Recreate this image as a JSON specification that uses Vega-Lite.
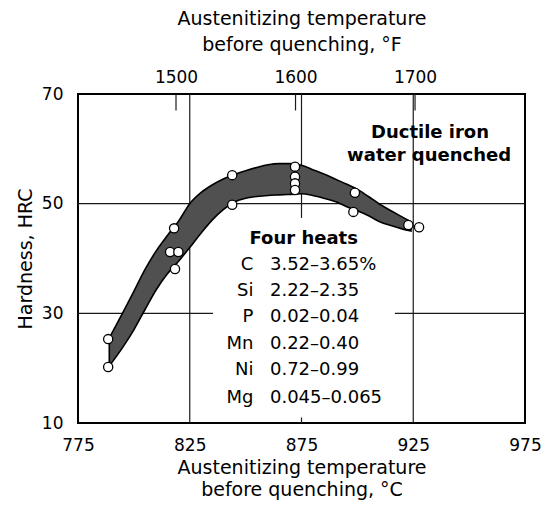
{
  "$schema": "https://vega.github.io/schema/vega-lite/v6.json",
  "width": 447,
  "height": 329,
  "autosize": {"type": "none"},
  "padding": {"left": 78, "top": 94, "right": 19, "bottom": 84},
  "background": "white",
  "config": {
    "view": {"stroke": "black", "strokeWidth": 2},
    "font": "DejaVu Sans",
    "axis": {
      "domain": false, "grid": false, "ticks": false,
      "labelFont": "DejaVu Sans", "titleFont": "DejaVu Sans",
      "labelFontSize": 17, "titleFontSize": 19, "titleFontWeight": "normal",
      "labelColor": "black", "titleColor": "black",
      "labelFlush": false, "labelOverlap": false
    },
    "text": {"font": "DejaVu Sans", "color": "black"}
  },
  "datasets": {
    "band": [
      {"c": 789, "h": 20.4, "h2": 25.5},
      {"c": 795, "h": 23.8, "h2": 30.1},
      {"c": 800, "h": 27.0, "h2": 34.0},
      {"c": 805, "h": 30.7, "h2": 38.0},
      {"c": 810, "h": 34.3, "h2": 41.4},
      {"c": 815, "h": 37.2, "h2": 44.2},
      {"c": 820, "h": 39.5, "h2": 46.8},
      {"c": 825, "h": 42.0, "h2": 50.0},
      {"c": 830, "h": 44.6, "h2": 52.0},
      {"c": 835, "h": 47.0, "h2": 53.4},
      {"c": 840, "h": 48.9, "h2": 54.5},
      {"c": 845, "h": 50.3, "h2": 55.3},
      {"c": 850, "h": 51.0, "h2": 56.0},
      {"c": 855, "h": 51.3, "h2": 56.6},
      {"c": 860, "h": 51.5, "h2": 57.1},
      {"c": 865, "h": 51.6, "h2": 57.3},
      {"c": 870, "h": 51.7, "h2": 57.3},
      {"c": 875, "h": 51.8, "h2": 57.0},
      {"c": 880, "h": 51.5, "h2": 56.2},
      {"c": 885, "h": 51.0, "h2": 55.4},
      {"c": 890, "h": 50.4, "h2": 54.5},
      {"c": 895, "h": 49.5, "h2": 53.6},
      {"c": 900, "h": 48.7, "h2": 52.6},
      {"c": 905, "h": 47.8, "h2": 51.3},
      {"c": 910, "h": 46.7, "h2": 49.9},
      {"c": 915, "h": 46.0, "h2": 48.7},
      {"c": 920, "h": 45.4, "h2": 47.6},
      {"c": 924, "h": 45.0, "h2": 46.7}
    ],
    "points": [
      {"c": 788.5, "h": 25.3}, {"c": 788.5, "h": 20.2},
      {"c": 818.0, "h": 45.5}, {"c": 816.2, "h": 41.2}, {"c": 819.9, "h": 41.2}, {"c": 818.4, "h": 38.1},
      {"c": 844.0, "h": 55.2}, {"c": 844.0, "h": 49.8},
      {"c": 872.1, "h": 56.75}, {"c": 872.1, "h": 54.9}, {"c": 872.1, "h": 53.7}, {"c": 872.1, "h": 52.5},
      {"c": 898.9, "h": 52.0}, {"c": 898.2, "h": 48.5},
      {"c": 922.8, "h": 46.1}, {"c": 927.6, "h": 45.7}
    ],
    "vgrid": [
      {"c": 825, "h": 10, "h2": 70},
      {"c": 925, "h": 10, "h2": 70},
      {"c": 875, "h": 47.4, "h2": 70},
      {"c": 875, "h": 10, "h2": 11}
    ],
    "hgrid": [
      {"h": 50, "c": 775, "c2": 975},
      {"h": 30, "c": 775, "c2": 835.4},
      {"h": 30, "c": 916.8, "c2": 975}
    ],
    "heads": [
      {"label": "Ductile iron", "c": 932.5, "h": 62.9},
      {"label": "water quenched", "c": 932.1, "h": 58.7},
      {"label": "Four heats", "c": 876.0, "h": 43.5}
    ],
    "elements": [
      {"label": "C", "c": 853.5, "h": 38.9},
      {"label": "Si", "c": 853.5, "h": 34.1},
      {"label": "P", "c": 853.5, "h": 29.3},
      {"label": "Mn", "c": 853.5, "h": 24.45},
      {"label": "Ni", "c": 853.5, "h": 19.6},
      {"label": "Mg", "c": 853.5, "h": 14.65}
    ],
    "ranges": [
      {"label": "3.52–3.65%", "c": 860.9, "h": 38.9},
      {"label": "2.22–2.35", "c": 860.9, "h": 34.1},
      {"label": "0.02–0.04", "c": 860.9, "h": 29.3},
      {"label": "0.22–0.40", "c": 860.9, "h": 24.45},
      {"label": "0.72–0.99", "c": 860.9, "h": 19.6},
      {"label": "0.045–0.065", "c": 860.9, "h": 14.65}
    ],
    "fticks": [
      {"f": 1500}, {"f": 1600}, {"f": 1700}
    ]
  },
  "resolve": {"scale": {"x": "independent"}},
  "layer": [
    {
      "encoding": {
        "x": {"field": "c", "type": "quantitative",
          "scale": {"domain": [775, 975], "nice": false, "zero": false},
          "axis": {"orient": "bottom", "values": [775, 825, 875, 925, 975], "format": "d",
            "labelPadding": 14, "title": ["Austenitizing temperature", "before quenching, °C"],
            "titlePadding": 5, "titleLineHeight": 22}},
        "y": {"field": "h", "type": "quantitative",
          "scale": {"domain": [10, 70], "nice": false, "zero": false},
          "axis": {"values": [10, 30, 50, 70], "format": "d", "labelPadding": 15, "title": "Hardness, HRC", "titlePadding": 6}}
      },
      "layer": [
        {
          "data": {"name": "vgrid"},
          "mark": {"type": "rule", "color": "#1a1a1a", "strokeWidth": 1.2},
          "encoding": {"y2": {"field": "h2"}}
        },
        {
          "data": {"name": "hgrid"},
          "mark": {"type": "rule", "color": "#1a1a1a", "strokeWidth": 1.2},
          "encoding": {"x2": {"field": "c2"}}
        },
        {
          "data": {"name": "band"},
          "mark": {"type": "area", "fill": "#505050", "stroke": "black", "strokeWidth": 1.6, "interpolate": "monotone"},
          "encoding": {"y2": {"field": "h2"}}
        },
        {
          "data": {"name": "points"},
          "mark": {"type": "point", "shape": "circle", "filled": true, "fill": "white", "stroke": "black", "strokeWidth": 1.3, "size": 85, "opacity": 1},
          "encoding": {}
        },
        {
          "data": {"name": "heads"},
          "mark": {"type": "text", "fontSize": 18, "fontWeight": "bold", "align": "center", "baseline": "middle"},
          "encoding": {"text": {"field": "label"}}
        },
        {
          "data": {"name": "elements"},
          "mark": {"type": "text", "fontSize": 18, "align": "right", "baseline": "middle"},
          "encoding": {"text": {"field": "label"}}
        },
        {
          "data": {"name": "ranges"},
          "mark": {"type": "text", "fontSize": 18, "align": "left", "baseline": "middle"},
          "encoding": {"text": {"field": "label"}}
        }
      ]
    },
    {
      "data": {"name": "fticks"},
      "mark": {"type": "rule", "color": "#1a1a1a", "strokeWidth": 1.2},
      "encoding": {
        "x": {"field": "f", "type": "quantitative",
          "scale": {"domain": [1418, 1792], "nice": false, "zero": false},
          "axis": {"orient": "top", "values": [1500, 1600, 1700], "format": "d", "labelPadding": 8,
            "title": ["Austenitizing temperature", "before quenching, °F"], "titlePadding": 14, "titleLineHeight": 26}},
        "y": {"datum": 70, "type": "quantitative",
          "scale": {"domain": [10, 70], "nice": false, "zero": false},
          "axis": {"values": [10, 30, 50, 70], "format": "d", "labelPadding": 15, "title": "Hardness, HRC", "titlePadding": 6}},
        "y2": {"datum": 67}
      }
    }
  ]
}
